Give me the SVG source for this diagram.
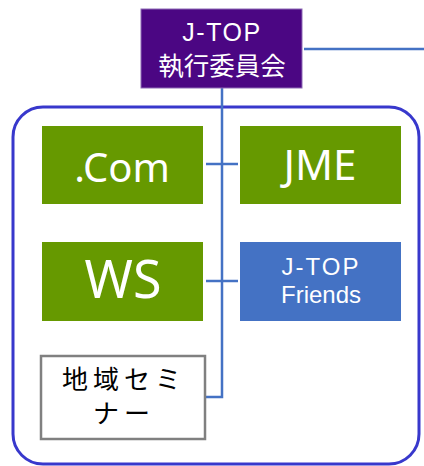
<svg xmlns="http://www.w3.org/2000/svg" width="424" height="466" viewBox="0 0 424 466">
<style>
.lbl{font-family:"Noto Sans","Noto Sans CJK JP",sans-serif;fill:#fff;text-anchor:middle}
.lat{font-family:"Liberation Sans","Noto Sans",sans-serif}
.cjk{font-family:"Noto Sans CJK JP","Noto Sans",sans-serif}
.green{fill:#669900}
.conn{stroke:#4472C4;stroke-width:2.5;fill:none}
</style>
<rect width="424" height="466" fill="#fff"/>
<rect x="13" y="107" width="406" height="357" rx="30" ry="30" fill="none" stroke="#3838CC" stroke-width="3"/>
<g id="connectors">
<path class="conn" d="M304 49H424"/>
<path class="conn" d="M222 88V397H206"/>
<path class="conn" d="M206 164H238"/>
<path class="conn" d="M206 281H238"/>
</g>
<g id="jtop-exec">
<rect x="141" y="9" width="161" height="79" fill="#4B0683" stroke="#8E6BB5" stroke-width="1"/>
<text class="lbl" x="222" y="40.5" font-size="25"><tspan class="lat" x="222" y="40.5" letter-spacing="1.5">J-TOP</tspan><tspan class="cjk" x="222" y="74.5" font-size="25.5">執行委員会</tspan></text>
</g>
<g id="com">
<rect class="green" x="42" y="126" width="161" height="78"/>
<text class="lbl" x="122" y="182" font-size="40">.Com</text>
</g>
<g id="jme">
<rect class="green" x="240" y="126" width="161" height="78"/>
<text class="lbl" x="320" y="180" font-size="42">JME</text>
</g>
<g id="ws">
<rect class="green" x="42" y="242" width="161" height="79"/>
<text class="lbl" x="123" y="298" font-size="52">WS</text>
</g>
<g id="friends">
<rect x="240" y="242" width="161" height="79" fill="#4472C4"/>
<text class="lbl lat" x="321" y="275" font-size="24"><tspan x="321" y="275" letter-spacing="2">J-TOP</tspan><tspan x="321" y="303">Friends</tspan></text>
</g>
<g id="seminar">
<rect x="41" y="356" width="164" height="83" fill="#fff" stroke="#808080" stroke-width="2.5"/>
<text class="lbl cjk" x="124" y="389" font-size="26" letter-spacing="5" style="fill:#000"><tspan x="124" y="389">地域セミ</tspan><tspan x="124" y="423">ナー</tspan></text>
</g>
</svg>
